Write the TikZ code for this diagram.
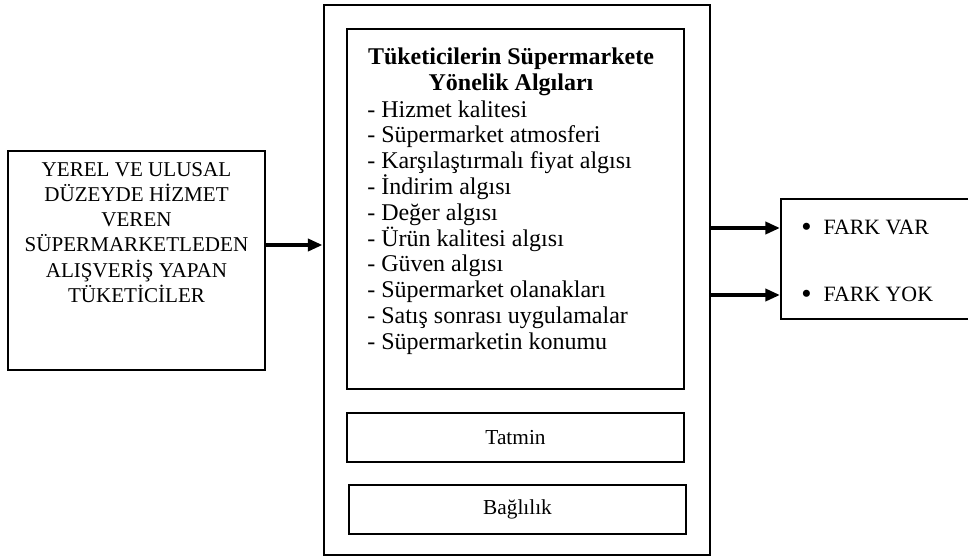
\documentclass[tikz,border=0pt]{standalone}
\usepackage{fontspec}
\setmainfont{Liberation Serif}
\usetikzlibrary{arrows.meta}

\tikzset{
  box/.style={draw, line width=1.5pt, inner sep=0pt},
  bigbox/.style={draw, line width=2.2pt, inner sep=0pt},
  flow/.style={-{Triangle[length=11pt,width=9pt]}, line width=3pt},
  itemtext/.style={anchor=base west, inner sep=0pt, font=\fontsize{18}{20}\selectfont},
  restext/.style={anchor=west, inner sep=0pt, font=\fontsize{16.4}{18}\selectfont}
}
\newcommand{\bigdot}{\raisebox{-1.8pt}{\fontsize{22}{22}\selectfont\textbullet}}

\begin{document}
\begin{tikzpicture}[x=0.75pt, y=-0.75pt]
    \useasboundingbox (0,0) rectangle (968,557);
    \clip (0,0) rectangle (968,557);

    % Source box
    \node[box, line width=2pt, minimum width=192.75pt, minimum height=164.25pt] (src) at (136.5,260.5) {};
    \node[anchor=north, align=center, inner sep=0pt, font=\fontsize{15.8}{18.9}\selectfont]
          (srctext) at (136.5,162) {YEREL VE ULUSAL\\D\"UZEYDE H\.IZMET\\VEREN\\S\"UPERMARKETLEDEN\\ALI\c{S}VER\.I\c{S} YAPAN\\T\"UKET\.IC\.ILER};

    % Outer box with the inner boxes
    \node[bigbox, minimum width=289.5pt, minimum height=412.5pt] (outer) at (517,280) {};
    \node[box, minimum width=252.75pt, minimum height=270pt] (perc) at (515.5,209) {};
    \node[box, minimum width=252.75pt, minimum height=36.75pt,
          font=\fontsize{16}{18}\selectfont] (tatmin) at (515.5,437.5) {Tatmin};
    \node[box, minimum width=252.75pt, minimum height=36.75pt,
          font=\fontsize{16}{18}\selectfont] (bag) at (517.5,509.5) {Ba\u{g}l\i l\i k};

    % Perception list
    \node[align=center, inner sep=0pt, font=\bfseries\fontsize{18}{19.5}\selectfont]
          (title) at (511,72) {T\"uketicilerin S\"upermarkete\\Y\"onelik Alg\i lar\i};
    \foreach \n/\txt in {0/Hizmet kalitesi, 1/S\"upermarket atmosferi,
        2/Kar\c{s}\i la\c{s}t\i rmal\i\ fiyat alg\i s\i, 3/\.Indirim alg\i s\i,
        4/De\u{g}er alg\i s\i, 5/\"Ur\"un kalitesi alg\i s\i, 6/G\"uven alg\i s\i,
        7/S\"upermarket olanaklar\i, 8/Sat\i\c{s} sonras\i\ uygulamalar,
        9/S\"upermarketin konumu} {
        \node[itemtext] (item\n) at (367,117+25.8*\n) {- \txt};
    }

    % Result box
    \node[box, minimum width=149.25pt, minimum height=90pt] (res) at (880.5,259) {};
    \node[restext] (var) at (801,228) {\bigdot\hspace{9pt}FARK VAR};
    \node[restext] (yok) at (801,295) {\bigdot\hspace{9pt}FARK YOK};

    % Connectors
    \coordinate (inlet) at (0,245);
    \draw[flow] (src.east |- inlet) -- (outer.west |- inlet);
    \draw[flow] (outer.east |- var) -- (res.west |- var);
    \draw[flow] (outer.east |- yok) -- (res.west |- yok);
\end{tikzpicture}
\end{document}
